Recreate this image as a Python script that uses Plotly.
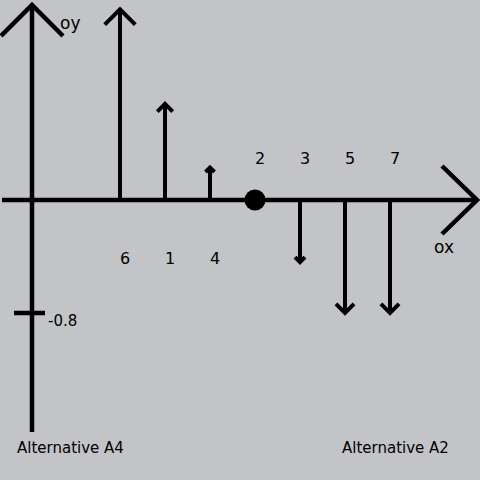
import plotly.graph_objects as go

# ---- data ----
labels = ["6", "1", "4", "2", "3", "5", "7"]
values = [1.35, 0.68, 0.23, 0.0, -0.44, -0.8, -0.8]
tick_values = [-0.8]
tick_labels = ["-0.8"]
left_name = "Alternative A4"
right_name = "Alternative A2"
x_axis_name = "ox"
y_axis_name = "oy"

# ---- geometry (pixel scale of the axes) ----
W = H = 480
PX_X = 45.0     # pixels per position step
PX_Y = 141.25   # pixels per value unit
X0, Y0 = 120, 200
xr = [-X0 / PX_X, (W - X0) / PX_X]
yr = [(Y0 - H) / PX_Y, Y0 / PX_Y]


def dx(p):
    return p / PX_X


def dy(p):
    return p / PX_Y


BG = "#c3c4c8"
INK = "black"
FONT = "DejaVu Sans"

fig = go.Figure()

# axes lines
vx = dx(32 - X0)
h_left, h_right = dx(2 - X0), dx(477 - X0)
v_top, v_bot = dy(Y0 - 5), dy(Y0 - 432)
fig.add_trace(go.Scatter(x=[h_left, h_right], y=[0, 0], mode="lines",
                         line=dict(color=INK, width=4.5), hoverinfo="skip"))
fig.add_trace(go.Scatter(x=[h_right - dx(35), h_right, h_right - dx(35)],
                         y=[dy(34), 0, -dy(34)], mode="lines",
                         line=dict(color=INK, width=4.5), hoverinfo="skip"))
fig.add_trace(go.Scatter(x=[vx, vx], y=[v_bot, v_top], mode="lines",
                         line=dict(color=INK, width=4.5), hoverinfo="skip"))
fig.add_trace(go.Scatter(x=[vx - dx(31), vx, vx + dx(31)],
                         y=[v_top - dy(31), v_top, v_top - dy(31)], mode="lines",
                         line=dict(color=INK, width=4.5), hoverinfo="skip"))

# y tick
for tv, tl in zip(tick_values, tick_labels):
    fig.add_trace(go.Scatter(x=[vx - dx(18), vx + dx(13)], y=[tv, tv], mode="lines",
                             line=dict(color=INK, width=4.5), hoverinfo="skip"))
    fig.add_annotation(x=vx, y=tv, text=tl, showarrow=False, xanchor="left",
                       yanchor="middle", xshift=14, yshift=-8,
                       font=dict(family=FONT, size=15, color=INK))

# stems with arrowheads
for i, (lab, v) in enumerate(zip(labels, values)):
    if v == 0:
        fig.add_trace(go.Scatter(x=[i], y=[0], mode="markers",
                                 marker=dict(color=INK, size=21), hoverinfo="skip"))
    else:
        s = 1 if v > 0 else -1
        arm = 0.08 * abs(v) * PX_Y
        arm = max(arm, 4.5)
        fig.add_trace(go.Scatter(
            x=[i, i, None, i - dx(arm), i, i + dx(arm)],
            y=[0, v, None, v - s * dy(arm), v, v - s * dy(arm)],
            mode="lines", line=dict(color=INK, width=4), hoverinfo="skip"))
    ys = -58 if v > 0 else 42
    fig.add_annotation(x=i, y=0, text=lab, showarrow=False, xshift=5, yshift=ys,
                       xanchor="center", yanchor="middle",
                       font=dict(family=FONT, size=16, color=INK))

# axis names and alternative names
fig.add_annotation(x=70 / W, y=1 - 23 / H, xref="paper", yref="paper", text=y_axis_name,
                   showarrow=False, xanchor="center", yanchor="middle",
                   font=dict(family=FONT, size=17, color=INK))
fig.add_annotation(x=444 / W, y=1 - 247 / H, xref="paper", yref="paper", text=x_axis_name,
                   showarrow=False, xanchor="center", yanchor="middle",
                   font=dict(family=FONT, size=17, color=INK))
fig.add_annotation(x=70 / W, y=1 - 448 / H, xref="paper", yref="paper", text=left_name,
                   showarrow=False, xanchor="center", yanchor="middle",
                   font=dict(family=FONT, size=15, color=INK))
fig.add_annotation(x=395 / W, y=1 - 448 / H, xref="paper", yref="paper", text=right_name,
                   showarrow=False, xanchor="center", yanchor="middle",
                   font=dict(family=FONT, size=15, color=INK))

fig.update_layout(
    width=W, height=H, margin=dict(l=0, r=0, t=0, b=0),
    paper_bgcolor=BG, plot_bgcolor=BG, showlegend=False,
    xaxis=dict(range=xr, visible=False, fixedrange=True),
    yaxis=dict(range=yr, visible=False, fixedrange=True),
)
fig.write_html("out.html", config={"displayModeBar": False},
               post_script="document.body.style.margin='0';"
                           "document.body.style.background='" + BG + "';")
